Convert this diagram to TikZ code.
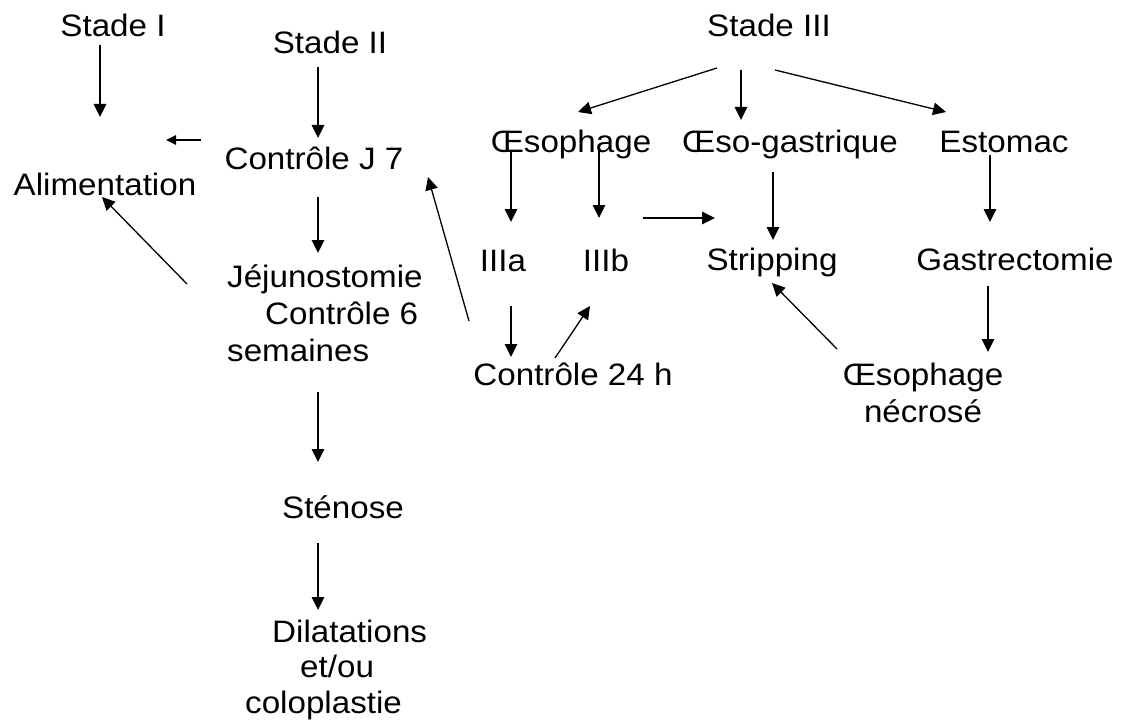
\documentclass[tikz,border=0pt]{standalone}
\usepackage{fontspec}
\setmainfont{Liberation Sans}[FakeStretch=1.07]
\usetikzlibrary{arrows.meta,calc}
\setlength\tabcolsep{0pt}
\begin{document}
\begin{tikzpicture}[x=1pt,y=-1pt,
  lbl/.style={inner sep=0pt, anchor=base, font=\fontsize{31}{37}\selectfont},
  arr/.style={line width=1.3pt, -{Triangle[length=13pt,width=12.5pt]}},
  sarr/.style={line width=1.3pt, -{Triangle[length=10pt,width=9.5pt]}}]
\useasboundingbox (0,0) rectangle (1123,722);
% nodes
\node[lbl] (s1) at (113,37) {Stade I};
\node[lbl] (s2) at (330,54) {Stade II};
\node[lbl] (cj7) at (314,170) {Contrôle J 7};
\node[lbl] (alim) at (105,195) {Alimentation};
\node[lbl, anchor=base west] (jej) at (227,287) {\begin{tabular}[t]{@{}l@{}}Jéjunostomie\\\hspace*{38pt}Contrôle 6\\semaines\end{tabular}};
\node[lbl] (sten) at (343,518) {Sténose};
\node[lbl, anchor=base west, font=\fontsize{31}{35.5}\selectfont] (dil) at (245,642) {\begin{tabular}[t]{@{}l@{}}\hspace*{27pt}Dilatations\\\hspace*{55pt}et/ou\\coloplastie\end{tabular}};
\node[lbl] (s3) at (769,37) {Stade III};
\node[lbl] (oeso) at (571,153) {Œsophage};
\node[lbl] (oesog) at (790,153) {Œso-gastrique};
\node[lbl] (esto) at (1004,153) {Estomac};
\node[lbl] (IIIa) at (503,271) {IIIa};
\node[lbl] (IIIb) at (606,271) {IIIb};
\node[lbl] (strip) at (772,270) {Stripping};
\node[lbl] (gastr) at (1015,270) {Gastrectomie};
\node[lbl] (c24) at (573,385) {Contrôle 24 h};
\node[lbl] (necro) at (923,385) {\begin{tabular}[t]{@{}c@{}}Œsophage\\nécrosé\end{tabular}};
% connectors
\draw[arr] ($(s1.base)+(-13,8)$) -- ($(alim.base)+(-5,-78)$);
\draw[arr] ($(s2.base)+(-12,13)$) -- ($(cj7.base)+(4,-32)$);
\draw[sarr] ($(cj7.base)+(-113,-30)$) -- ($(alim.base)+(61,-55)$);
\draw[arr] ($(cj7.base)+(4,27)$) -- ($(jej.base west)+(91,-34)$);
\draw[arr] ($(jej.base west)+(-40,-3)$) -- ($(alim.base)+(-3,2)$);
\draw[arr] ($(jej.base west)+(91,105)$) -- ($(sten.base)+(-25,-56)$);
\draw[arr] ($(sten.base)+(-25,25)$) -- ($(dil.base west)+(73,-32)$);
\draw[arr] ($(s3.base)+(-52,31)$) -- ($(oeso.base)+(7,-41)$);
\draw[arr] ($(s3.base)+(-28,33)$) -- ($(oesog.base)+(-49,-33)$);
\draw[arr] ($(s3.base)+(6,33)$) -- ($(esto.base)+(-58,-41)$);
\draw[arr] ($(oeso.base)+(-60,-3)$) -- ($(IIIa.base)+(8,-49)$);
\draw[arr] ($(oeso.base)+(28,-3)$) -- ($(IIIb.base)+(-7,-53)$);
\draw[arr] ($(IIIb.base)+(37,-53)$) -- ($(strip.base)+(-57,-52)$);
\draw[arr] ($(oesog.base)+(-17,19)$) -- ($(strip.base)+(1,-30)$);
\draw[arr] ($(esto.base)+(-14,2)$) -- ($(gastr.base)+(-25,-48)$);
\draw[arr] ($(gastr.base)+(-27,16)$) -- ($(necro.base)+(65,-33)$);
\draw[arr] ($(necro.base)+(-86,-36)$) -- ($(strip.base)+(0,13)$);
\draw[arr] ($(IIIa.base)+(8,35)$) -- ($(c24.base)+(-62,-28)$);
\draw[arr] ($(c24.base)+(-18,-27)$) -- ($(IIIb.base)+(-16,35)$);
\draw[arr] ($(c24.base)+(-104,-64)$) -- ($(cj7.base)+(114,7)$);
\end{tikzpicture}
\end{document}
